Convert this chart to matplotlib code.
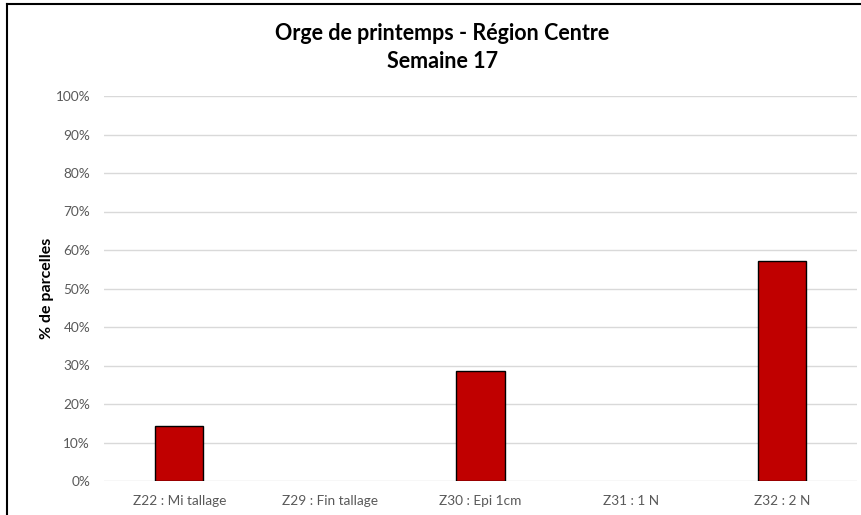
import matplotlib
import matplotlib.pyplot as plt
from matplotlib.lines import Line2D
from matplotlib.ticker import PercentFormatter

matplotlib.use("Agg")

stades = ["Z22 : Mi tallage", "Z29 : Fin tallage", "Z30 : Epi 1cm", "Z31 : 1 N", "Z32 : 2 N"]
parcelles = [14.3, 0.0, 28.6, 0.0, 57.1]

plt.rcParams["font.family"] = ["Lato", "DejaVu Sans"]

fig = plt.figure(figsize=(8.62, 5.15), dpi=100)
ax = fig.add_axes([104 / 862, 1 - 481 / 515, 753 / 862, 385 / 515])

x = range(len(stades))
# pas de contour pour les barres vides
edges = [1 if v > 0 else 0 for v in parcelles]
ax.bar(x, parcelles, width=0.32, color="#C00000", edgecolor="black", linewidth=edges, zorder=3)

ax.set_xlim(-0.5, len(stades) - 0.5)
ax.set_ylim(0, 100)
ax.set_yticks(range(0, 101, 10))
ax.yaxis.set_major_formatter(PercentFormatter(decimals=0))
ax.set_xticks(list(x))
ax.set_xticklabels(stades)
ax.tick_params(length=0, labelsize=9.8, colors="#595959", pad=10)
ax.tick_params(axis="y", pad=10)
ax.grid(axis="y", color="#D9D9D9", linewidth=1, zorder=0)
for s in ax.spines.values():
    s.set_visible(False)

ax.set_ylabel("% de parcelles", fontsize=11.5, fontweight="bold", color="black", labelpad=1)

fig.text(0.513, 1 - 33 / 515, "Orge de printemps - Région Centre", ha="center", va="center",
         fontsize=15.5, fontweight="bold")
fig.text(0.513, 1 - 62 / 515, "Semaine 17", ha="center", va="center",
         fontsize=15.5, fontweight="bold")

# cadre du graphique (bord gauche et haut visibles)
fig.add_artist(Line2D([7 / 862, 7 / 862], [0, 1 - 4 / 515], color="black", linewidth=1.5,
                      transform=fig.transFigure))
fig.add_artist(Line2D([7 / 862, 1], [1 - 4 / 515, 1 - 4 / 515], color="black", linewidth=1.5,
                      transform=fig.transFigure))

fig.savefig("out.png", dpi=100)
